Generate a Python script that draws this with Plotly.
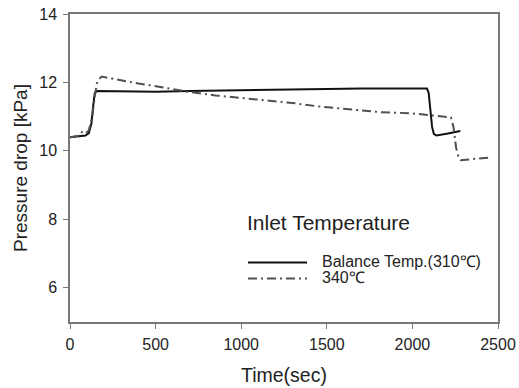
import plotly.graph_objects as go

t_balance = [0, 50, 90, 110, 125, 135, 145, 160, 300, 500, 700, 900, 1100, 1300, 1500,
             1700, 1900, 2085, 2095, 2105, 2115, 2125, 2140, 2200, 2280]
v_balance = [10.40, 10.42, 10.45, 10.52, 10.8, 11.3, 11.7, 11.75, 11.74, 11.73, 11.75, 11.77,
             11.79, 11.80, 11.81, 11.82, 11.82, 11.82, 11.7, 11.2, 10.7, 10.5, 10.45, 10.5, 10.58]

t_340 = [0, 60, 70, 90, 110, 130, 145, 160, 185, 234, 300, 400, 527, 683, 850, 1000, 1112,
         1300, 1450, 1581, 1815, 1990, 2150, 2225, 2240, 2255, 2270, 2283, 2350, 2447]
v_340 = [10.40, 10.45, 10.55, 10.5, 10.6, 11.0, 11.6, 12.05, 12.17, 12.12, 12.05, 11.97, 11.87,
         11.73, 11.62, 11.55, 11.5, 11.4, 11.3, 11.24, 11.13, 11.10, 11.03, 10.98, 10.7, 10.1,
         9.8, 9.73, 9.76, 9.80]

x_ticks = [0, 500, 1000, 1500, 2000, 2500]
y_ticks = [6, 8, 10, 12, 14]

series_names = ["Balance Temp.(310\u2103)", "340\u2103"]
legend_title = "Inlet Temperature"

BLACK = "#111111"
GRAY = "#505050"
DASHDOT = "9px,4px,2px,4px"

FIG_W, FIG_H = 519, 388
L, T, W, H = 70, 14, 428, 308

fig = go.Figure()
fig.add_trace(go.Scatter(x=t_balance, y=v_balance, mode="lines", name=series_names[0],
                         line=dict(color=BLACK, width=2), showlegend=False))
fig.add_trace(go.Scatter(x=t_340, y=v_340, mode="lines", name=series_names[1],
                         line=dict(color=GRAY, width=2, dash=DASHDOT), showlegend=False))

axis_common = dict(showline=True, linecolor="#777777", linewidth=1.5, mirror=True,
                   ticks="outside", ticklen=5, tickcolor="#777777", showgrid=False,
                   zeroline=False, automargin=False, ticklabeloverflow="allow",
                   tickfont=dict(size=16, color="#222222"))


def px(x):
    return (x - L) / W


def py(y):
    return (T + H - y) / H


fig.add_annotation(x=px(245), y=py(222.5), xref="paper", yref="paper", text=legend_title,
                   showarrow=False, xanchor="left", yanchor="middle",
                   font=dict(size=21, color="#222222"))
for i, (name, color, dash) in enumerate([(series_names[0], BLACK, "solid"),
                                          (series_names[1], GRAY, DASHDOT)]):
    yy = 261.5 + 16 * i
    fig.add_shape(type="line", xref="paper", yref="paper", x0=px(248), x1=px(307),
                  y0=py(yy + 1), y1=py(yy + 1), line=dict(color=color, width=2, dash=dash))
    fig.add_annotation(x=px(321), y=py(yy), xref="paper", yref="paper", text=name,
                       showarrow=False, xanchor="left", yanchor="middle", borderpad=0,
                       font=dict(size=16, color="#222222"))

fig.update_layout(
    width=FIG_W, height=FIG_H,
    margin=dict(l=L, r=FIG_W - L - W, t=T, b=FIG_H - T - H),
    paper_bgcolor="white", plot_bgcolor="white",
    font=dict(family="Arial, Liberation Sans, sans-serif", color="#222222"),
    xaxis=dict(range=[0, 2500], tickvals=x_ticks, ticklabelstandoff=2,
               title=dict(text="Time(sec)", font=dict(size=19.5), standoff=16), **axis_common),
    yaxis=dict(range=[5, 14], tickvals=y_ticks, ticklabelstandoff=3,
               title=dict(text="Pressure drop [kPa]", font=dict(size=19), standoff=7), **axis_common),
    showlegend=False,
)

fig.write_html("out.html", config={"displayModeBar": False},
               post_script="document.body.style.margin='0';")
